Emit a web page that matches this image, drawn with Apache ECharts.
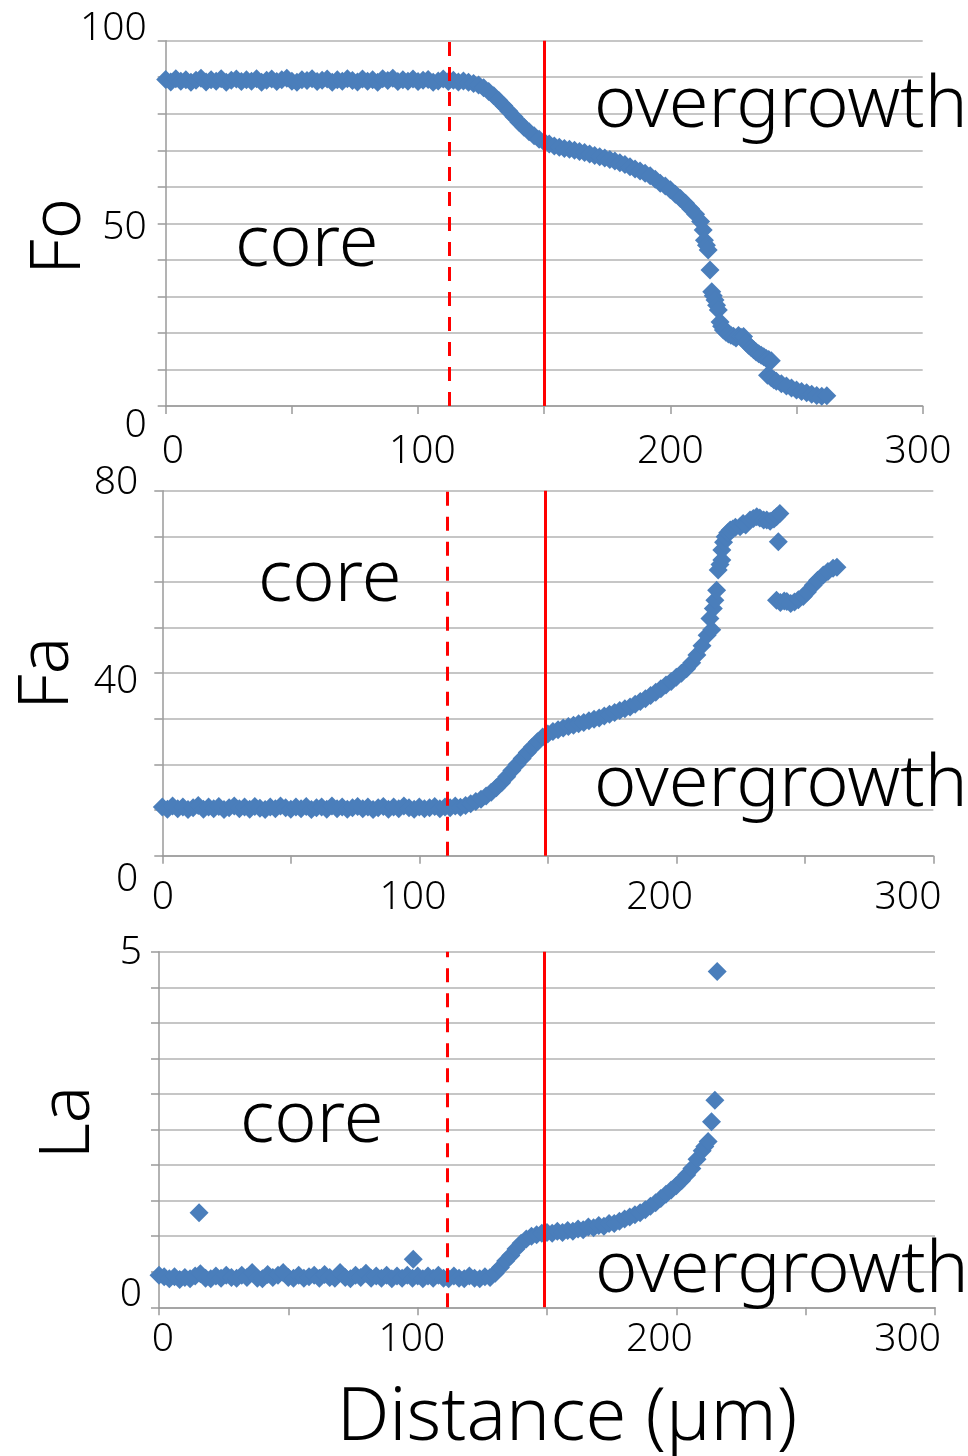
<!DOCTYPE html>
<html>
<head>
<meta charset="utf-8">
<script src="https://cdn.jsdelivr.net/npm/echarts@6/dist/echarts.min.js"></script>
<style>
html, body { margin: 0; padding: 0; background: #fff; }
#chart { width: 968px; height: 1456px; }
</style>
</head>
<body>
<div id="chart"></div>
<script>
// Fo profile [distance um, Fo]
var foPoints = [
  [0,89.4],[2,88.7],[4,89.6],[6,88.9],[8,89.3],[10,88.6],[12,89.2],[14,89.7],[16,88.7],[18,89.3],
  [20,88.9],[22,89.6],[24,88.6],[26,89.2],[28,89.5],[30,88.8],[32,89.3],[34,88.9],[36,89.6],[38,88.6],
  [40,89.2],[42,89.5],[44,88.8],[46,89.3],[48,89.7],[50,88.9],[52,88.6],[54,89.3],[56,89.1],[58,89.6],
  [60,88.8],[62,89.2],[64,89.5],[66,88.6],[68,89.3],[70,88.9],[72,89.6],[74,89.1],[76,88.7],[78,89.5],
  [80,88.9],[82,89.3],[84,88.6],[86,89.6],[88,89.1],[90,89.7],[92,88.8],[94,89.3],[96,88.9],[98,89.5],
  [100,88.8],[102,89.2],[104,89.4],[106,88.6],[108,89.0],[110,89.5],[112,88.8],[114,89.2],[116,88.7],[118,89.0],
  [120,88.6],[122,88.3],[124,87.9],[126,87.1],[128,86.1],[130,84.9],[132,83.6],[134,82.2],[136,80.7],[138,79.2],
  [140,77.7],[142,76.3],[144,75.1],[146,74.0],[148,73.0],[150,72.3],[152,71.7],[154,71.2],[156,70.8],[158,70.5],
  [160,70.3],[162,70.0],[164,69.7],[166,69.4],[168,69.0],[170,68.6],[172,68.2],[174,67.9],[176,67.5],[178,67.1],
  [180,66.6],[182,66.1],[184,65.5],[186,64.9],[188,64.3],[190,63.7],[192,63.0],[194,62.1],[196,61.0],[198,60.2],
  [200,59.2],[202,58.0],[204,56.8],[206,55.5],[208,54.0],[210,52.5],[212,50.5],
  [213,48.2],[213.5,45.4],[214.3,44.0],[215,42.7],[215.7,37.2],[216.4,31.3],[217,30.2],[217.7,29.0],[218.3,27.6],[219,26.3],
  [219.7,23.0],[220.3,21.8],[221,20.8],[222,20.2],[223,19.7],[224,19.4],[225,19.1],[226,18.6],[227,19.3],[228,18.8],
  [229,19.0],[230,17.4],[231,16.6],[232,16.0],[233,15.4],[234,14.8],[235,14.3],[236,13.9],[237,13.5],[238,13.0],
  [239,12.7],[240,12.4],[238.5,8.4],[240,7.7],[241,7.2],[242,6.8],[244,6.1],[246,5.5],[248,4.9],[250,4.4],
  [252,4.0],[254,3.6],[256,3.2],[258,2.9],[260,2.7],[262,2.8]
];

// Fa profile
var faPoints = [
  [0,10.7],[2,10.2],[4,10.9],[6,10.3],[8,10.7],[10,10.1],[12,10.5],[14,11.0],[16,10.2],[18,10.7],
  [20,10.3],[22,10.8],[24,10.1],[26,10.5],[28,10.9],[30,10.3],[32,10.7],[34,10.2],[36,10.8],[38,10.4],
  [40,10.1],[42,10.7],[44,10.3],[46,10.9],[48,10.5],[50,10.2],[52,10.7],[54,10.3],[56,10.8],[58,10.1],
  [60,10.5],[62,10.7],[64,10.2],[66,10.9],[68,10.3],[70,10.7],[72,10.2],[74,10.5],[76,10.8],[78,10.3],
  [80,10.7],[82,10.1],[84,10.5],[86,10.8],[88,10.2],[90,10.7],[92,10.3],[94,10.9],[96,10.5],[98,10.2],
  [100,10.7],[102,10.3],[104,10.5],[106,10.8],[108,10.3],[110,10.7],[112,10.5],[114,10.9],[116,10.6],[118,11.0],
  [120,11.4],[122,11.9],[124,12.4],[126,13.1],[128,13.9],[130,14.9],[132,16.0],[134,17.3],[136,18.7],[138,20.0],
  [140,21.3],[142,22.6],[144,23.8],[146,25.0],[148,26.0],[150,26.7],[152,27.2],[154,27.6],[156,28.0],[158,28.3],
  [160,28.6],[162,28.9],[164,29.2],[166,29.6],[168,29.9],[170,30.2],[172,30.6],[174,31.0],[176,31.4],[178,31.8],
  [180,32.2],[182,32.6],[184,33.2],[186,33.8],[188,34.4],[190,35.1],[192,35.8],[194,36.6],[196,37.4],[198,38.2],
  [200,39.1],[202,40.0],[204,41.0],[206,42.3],[208,44.0],[210,46.0],[212,48.3],
  [213.1,52.0],[213.8,49.5],[214.4,54.2],[215,56.0],[215.7,58.2],[216.3,62.6],[217,63.8],[217.7,64.8],[217.7,67.0],[218.4,68.7],
  [219,69.9],[220,70.8],[221,71.4],[222,71.6],[223,72.0],[224.8,72.1],[226,72.8],[227,72.5],[228.7,73.6],[230,73.9],
  [231.3,74.3],[232.5,74.0],[234,73.6],[235.2,73.6],[236.5,73.3],[238,73.8],[239,74.3],[240.3,75.0],[239.7,68.8],
  [239,56.0],[240.5,55.5],[242,55.8],[243,55.7],[244.5,55.3],[246,55.6],[247.5,56.1],[249.4,56.8],[251,57.8],[253.3,59.3],
  [255,60.4],[257.2,61.5],[259,62.3],[261,63.0],[262.5,63.2]
];

// La profile
var laPoints = [
  [0,0.45],[2,0.43],[4,0.40],[6,0.43],[8,0.39],[10,0.42],[12,0.40],[14,0.44],[16,0.47],[18,0.41],
  [20,0.40],[22,0.44],[24,0.41],[26,0.45],[28,0.42],[30,0.41],[32,0.45],[34,0.42],[36,0.49],[38,0.41],
  [40,0.40],[42,0.46],[44,0.42],[46,0.45],[48,0.49],[50,0.42],[52,0.41],[54,0.45],[56,0.41],[58,0.43],
  [60,0.45],[62,0.41],[64,0.46],[66,0.42],[68,0.41],[70,0.49],[72,0.42],[74,0.40],[76,0.45],[78,0.42],
  [80,0.48],[82,0.41],[84,0.44],[86,0.41],[88,0.45],[90,0.40],[92,0.44],[94,0.41],[96,0.45],[98,0.41],
  [100,0.44],[102,0.40],[104,0.44],[106,0.41],[108,0.45],[110,0.41],[112,0.40],[114,0.44],[116,0.41],[118,0.40],
  [120,0.44],[122,0.41],[124,0.40],[126,0.43],[128,0.42],
  [130,0.48],[132,0.56],[134,0.65],[136,0.73],[138,0.82],[140,0.90],[142,0.96],[144,1.00],[146,1.02],[148,1.04],
  [150,1.05],[152,1.04],[154,1.07],[156,1.05],[158,1.08],[160,1.07],[162,1.10],[164,1.09],[166,1.13],[168,1.12],
  [170,1.15],[172,1.14],[174,1.18],[176,1.18],[178,1.21],[180,1.24],[182,1.27],[184,1.30],[186,1.33],[188,1.37],
  [190,1.42],[192,1.47],[194,1.53],[196,1.59],[198,1.65],[200,1.71],[202,1.78],[204,1.86],[206,1.95],[208,2.08],
  [210,2.20],[211,2.26],[212.3,2.33],[213.6,2.61],[214.9,2.91],[215.8,4.72],
  [15.5,1.33],[98.3,0.675]
];

// core / overgrowth boundaries per panel (um)
var coreEdge = [112.3, 111, 111.4];
var rimEdge = [150, 149, 148.8];

var yMaxes = [100, 80, 5];
var yIntervals = [10, 10, 0.5];
var yLabelled = [[0, 50, 100], [0, 40, 80], [0, 5]];
var xLabelled = [0, 100, 200, 300];
var yNames = ['Fo', 'Fa', 'La'];

var FONT = '"Noto Sans", "Noto Sans CJK JP", sans-serif';
var BLUE = '#4a7ebb';
var GRIDC = '#b3b3b3';
var AXISC = '#9a9a9a';

// layout of the three stacked panels
var panels = [
  { grid: { left: 165.7, top: 40.7, width: 757, height: 365.3 },
    yShift: { 0: 20, 50: 4.3, 100: -11.7 }, yMargin: 19,
    xShift: { 0: 7.3, 100: 4.4, 200: 0, 300: -4.7 }, xMargin: 26,
    nameGap: 71, namePad: [0, 26, 0, 0],
    core: [235, 266.7], over: [594, 128.3] },
  { grid: { left: 162.3, top: 490.7, width: 771, height: 365 },
    yShift: { 0: 24.3, 40: 8.5, 80: -7.4 }, yMargin: 24,
    xShift: { 0: 0.7, 100: -6.3, 200: -16.7, 300: -25.3 }, xMargin: 23,
    nameGap: 79, namePad: [0, 0, 0, 0],
    core: [258, 601.7], over: [594, 806.7] },
  { grid: { left: 159, top: 951.7, width: 776, height: 355.6 },
    yShift: { 0: -12.3, 5: 1.6 }, yMargin: 17,
    xShift: { 0: 4, 100: -5.7, 200: -17, 300: -27.3 }, xMargin: 13,
    nameGap: 55, namePad: [0, 0, 0, 14],
    core: [240, 1143], over: [595, 1293] }
];

var LABEL_SIZE = 39;
var TEXT_SIZE = 72;
var WEIGHT = 300;

function yRich(shift) {
  var rich = {};
  Object.keys(shift).forEach(function (k) {
    var dy = shift[k];
    rich['t' + String(k).replace('.', '_')] = {
      fontSize: LABEL_SIZE, fontFamily: FONT, fontWeight: WEIGHT, color: '#000',
      padding: [Math.max(dy, 0) * 2, 0, Math.max(-dy, 0) * 2, 0]
    };
  });
  return rich;
}
function xRich(shift) {
  var rich = {};
  Object.keys(shift).forEach(function (k) {
    var dx = shift[k];
    rich['t' + k] = {
      fontSize: LABEL_SIZE, fontFamily: FONT, fontWeight: WEIGHT, color: '#000',
      padding: [0, Math.max(-dx, 0) * 2, 0, Math.max(dx, 0) * 2]
    };
  });
  return rich;
}

var allPoints = [foPoints, faPoints, laPoints];
var grids = [], xAxes = [], yAxes = [], series = [], graphics = [];

panels.forEach(function (p, i) {
  var g = p.grid;
  grids.push({ left: g.left, top: g.top, width: g.width, height: g.height,
    containLabel: false, outerBoundsMode: 'none' });
  xAxes.push({
    type: 'value', gridIndex: i, min: 0, max: 300, interval: 50,
    axisLine: { lineStyle: { color: AXISC, width: 1.5 } },
    axisTick: { length: 8, lineStyle: { color: AXISC, width: 1.5 } },
    splitLine: { show: false },
    axisLabel: {
      margin: p.xMargin,
      formatter: function (v) { return xLabelled.indexOf(v) >= 0 ? '{t' + v + '|' + v + '}' : ''; },
      rich: xRich(p.xShift)
    },
    name: i === 2 ? 'Distance (µm)' : '',
    nameLocation: 'middle', nameGap: 75, nameMoveOverlap: false,
    nameTextStyle: { fontSize: 74, fontFamily: FONT, fontWeight: WEIGHT, color: '#000', padding: [0, 0, 0, 40] }
  });
  yAxes.push({
    type: 'value', gridIndex: i, min: 0, max: yMaxes[i], interval: yIntervals[i],
    axisLine: { show: true, lineStyle: { color: AXISC, width: 1.5 } },
    axisTick: { show: true, length: 8, lineStyle: { color: AXISC, width: 1.5 } },
    splitLine: { lineStyle: { color: GRIDC, width: 1.5 } },
    axisLabel: {
      margin: p.yMargin,
      formatter: (function (list) {
        return function (v) {
          return list.indexOf(v) >= 0 ? '{t' + String(v).replace('.', '_') + '|' + v + '}' : '';
        };
      })(yLabelled[i]),
      rich: yRich(p.yShift)
    },
    name: yNames[i], nameLocation: 'middle', nameRotate: 90, nameGap: p.nameGap,
    nameMoveOverlap: false,
    nameTextStyle: { fontSize: 70, fontFamily: FONT, fontWeight: WEIGHT, color: '#000', padding: p.namePad }
  });
  series.push({
    type: 'scatter', xAxisIndex: i, yAxisIndex: i, z: 2,
    symbol: 'diamond', symbolSize: 19,
    itemStyle: { color: BLUE, opacity: 1 },
    data: allPoints[i]
  });
  series.push({
    type: 'scatter', xAxisIndex: i, yAxisIndex: i, z: 5, data: [],
    markLine: {
      silent: true, symbol: 'none', label: { show: false }, animation: false,
      data: [
        { xAxis: coreEdge[i], lineStyle: { color: '#ff0000', width: 3, type: [14, 11] } },
        { xAxis: rimEdge[i], lineStyle: { color: '#ff0000', width: 3, type: 'solid' } }
      ]
    }
  });
  graphics.push({
    type: 'text', x: p.core[0], y: p.core[1] - TEXT_SIZE * 0.30, z: 10,
    style: { text: 'core', fontSize: TEXT_SIZE, fontFamily: FONT, fontWeight: WEIGHT, fill: '#000',
      align: 'left', verticalAlign: 'middle', textAlign: 'left', textVerticalAlign: 'middle' }
  });
  graphics.push({
    type: 'text', x: p.over[0], y: p.over[1] - TEXT_SIZE * 0.30, z: 10,
    style: { text: 'overgrowth', fontSize: TEXT_SIZE, fontFamily: FONT, fontWeight: WEIGHT, fill: '#000',
      align: 'left', verticalAlign: 'middle', textAlign: 'left', textVerticalAlign: 'middle' }
  });
});

var chart = echarts.init(document.getElementById('chart'));
chart.setOption({
  animation: false,
  backgroundColor: '#fff',
  grid: grids,
  xAxis: xAxes,
  yAxis: yAxes,
  series: series,
  graphic: graphics
});
</script>
</body>
</html>
